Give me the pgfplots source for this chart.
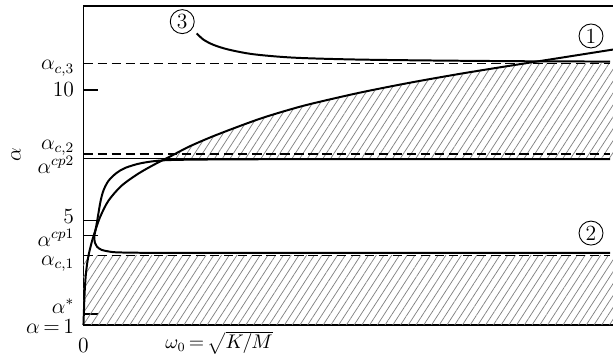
\documentclass[border=0pt]{standalone}
\usepackage{pgfplots}
\pgfplotsset{compat=1.18}
\usepackage{pgfplotstable}
\usetikzlibrary{patterns.meta}

\pgfplotstableread{
x a
0 1
0.004 1.45
0.012 2.25
0.022 2.85
0.035 3.3
0.05 3.65
0.07 3.98
0.1 4.4
0.165 5.12
0.25 5.76
0.38 6.33
0.55 6.8
0.72 7.17
0.865 7.45
1.05 7.82
1.265 8.18
1.5 8.53
1.765 8.9
2.0 9.18
2.265 9.46
2.765 9.9
3.265 10.28
3.765 10.62
4.265 10.93
4.765 11.23
5.295 11.55
}\curveone

\pgfplotstableread{
x a
5.265 7.355
3.0 7.355
2.0 7.35
1.3 7.34
0.815 7.31
0.58 7.2
0.42 7.02
0.33 6.82
0.25 6.52
0.2 6.15
0.17 5.72
0.14 5.05
0.12 4.62
0.108 4.38
0.115 4.15
0.135 4.0
0.18 3.88
0.26 3.81
0.35 3.78
0.6 3.765
1.0 3.76
2.0 3.76
5.265 3.76
}\curvetwo

\pgfplotstableread{
x a
1.132 12.17
1.2 11.93
1.3 11.73
1.45 11.55
1.7 11.37
2.1 11.24
2.7 11.17
3.5 11.13
4.5 11.1
5.265 11.09
}\curvethree

% upper hatched region: above alpha^cp2, below curve 1 and alpha_c,3
\pgfplotstableread{
x a
0.83 7.37
0.865 7.45
1.05 7.82
1.265 8.18
1.5 8.53
1.765 8.9
2.0 9.18
2.265 9.46
2.765 9.9
3.265 10.28
3.765 10.62
4.265 10.93
4.415 11.02
5.295 11.02
5.295 7.37
}\upperhatch

\begin{document}
\begin{tikzpicture}[font=\fontsize{12}{14}\selectfont]
\begin{axis}[
  at={(0,0)}, anchor=south west,
  scale only axis, width=293.8pt, height=177.0pt,
  xmin=0, xmax=5.295, ymin=1, ymax=13.22,
  axis x line=bottom, axis y line=left,
  axis line style={-, line width=0.8pt},
  xtick=\empty,
  ytick={1.42,4.42,5,10}, yticklabels={},
  ytick align=inside, ytick pos=left,
  major tick length=8.3pt,
  tick style={black, line width=0.6pt},
  clip=false,
]
% hatched regions
\addplot[draw=none, pattern={Lines[angle=57,distance=3.6pt,line width=0.4pt]}, pattern color=gray]
  table[x=x,y=a] {\upperhatch} -- cycle;
\addplot[draw=none, pattern={Lines[angle=57,distance=3.6pt,line width=0.4pt]}, pattern color=gray]
  coordinates {(0,1) (0,3.67) (5.295,3.67) (5.295,1)} -- cycle;

% reference levels
\addplot[black, line width=0.65pt, dash pattern=on 5.2pt off 2.6pt] coordinates {(0,11.02) (5.265,11.02)};
\addplot[black, line width=0.65pt, dash pattern=on 5.2pt off 2.6pt] coordinates {(0,7.55) (5.265,7.55)};
\addplot[black, line width=0.65pt] coordinates {(0,7.37) (5.265,7.37)};
\addplot[black, line width=0.65pt, dash pattern=on 5.2pt off 2.6pt] coordinates {(0,3.67) (5.265,3.67)};

% curves
\addplot[black, line width=1.1pt, smooth] table[x=x,y=a] {\curveone};
\addplot[black, line width=1.1pt, smooth, tension=0.5] table[x=x,y=a] {\curvetwo};
\addplot[black, line width=1.1pt, smooth] table[x=x,y=a] {\curvethree};

% top frame line
\draw[line width=0.8pt] (rel axis cs:0,1) -- (rel axis cs:1,1);

% circled labels
\node[circle, draw, line width=0.5pt, inner sep=0pt, minimum size=13.3pt] at (axis cs:5.075,12.07) {1};
\node[circle, draw, line width=0.5pt, inner sep=0pt, minimum size=13.3pt] at (axis cs:5.075,4.52) {2};
\node[circle, draw, line width=0.5pt, inner sep=0pt, minimum size=13.3pt] at (axis cs:0.988,12.62) {3};

% y labels
\node[anchor=base east, inner sep=0pt, xshift=-5pt] at (axis cs:0,10.77) {$\alpha_{c,3}$};
\node[anchor=base east, inner sep=0pt, xshift=-5pt] at (axis cs:0,9.74) {10};
\node[anchor=base east, inner sep=0pt, xshift=-5pt] at (axis cs:0,7.72) {$\alpha_{c,2}$};
\node[anchor=base east, inner sep=0pt, xshift=-5pt] at (axis cs:0,6.80) {$\alpha^{cp2}$};
\node[anchor=base east, inner sep=0pt, xshift=-5pt] at (axis cs:0,4.90) {5};
\node[anchor=base east, inner sep=0pt, xshift=-5pt] at (axis cs:0,4.02) {$\alpha^{cp1}$};
\node[anchor=base east, inner sep=0pt, xshift=-5pt] at (axis cs:0,3.27) {$\alpha_{c,1}$};
\node[anchor=base east, inner sep=0pt, xshift=-5pt] at (axis cs:0,1.45) {$\alpha^{*}$};
\node[anchor=base east, inner sep=0pt, xshift=-5pt] at (axis cs:0,0.68) {$\alpha\,{=}\,1$};
\node[rotate=90, inner sep=0pt] at (axis cs:-0.675,7.51) {$\alpha$};

% x labels
\node[anchor=north, inner sep=0pt, yshift=-7pt] at (axis cs:0,1) {0};
\node[anchor=base west, inner sep=0pt, yshift=-13.3pt, font=\fontsize{10.5}{12}\selectfont] at (axis cs:0.815,1) {$\omega_0\,{=}\,\sqrt{K/M}$};
\end{axis}
\pgfresetboundingbox
\path[use as bounding box] (-46.3pt,-18.3pt) rectangle (293.8pt,180.3pt);
\end{tikzpicture}
\end{document}
